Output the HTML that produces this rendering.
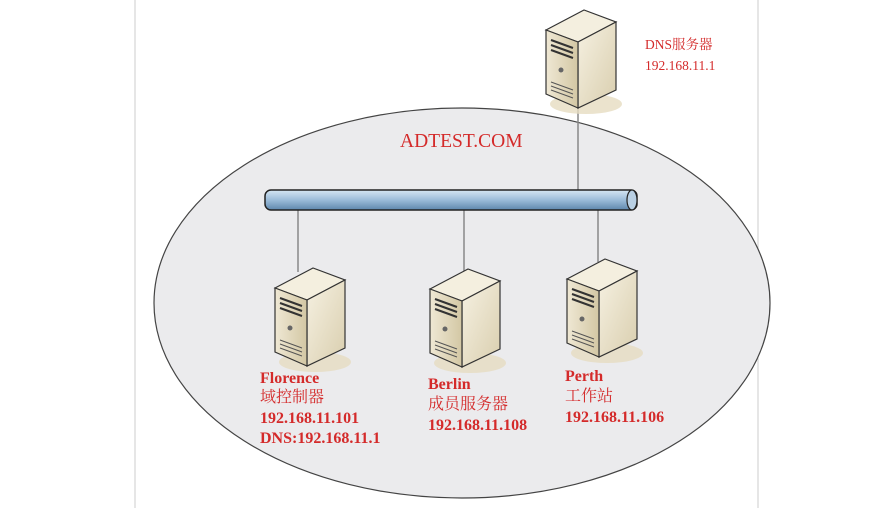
<!DOCTYPE html>
<html><head><meta charset="utf-8"><style>
body{margin:0;background:#fff;}
svg text{font-family:"Liberation Serif","Noto Serif CJK SC",serif;fill:#d42a2a;}
.b{font-weight:bold;font-size:16px;}
.n{font-size:16px;}
.d{font-size:13.5px;}
</style></head><body>
<svg width="893" height="508" viewBox="0 0 893 508" xmlns="http://www.w3.org/2000/svg">
<defs>
<linearGradient id="bus" x1="0" y1="0" x2="0" y2="1">
<stop offset="0" stop-color="#d6e6f3"/><stop offset="0.5" stop-color="#9bbcd9"/><stop offset="1" stop-color="#5e87ad"/></linearGradient>
<linearGradient id="side" x1="0" y1="0" x2="1" y2="1">
<stop offset="0" stop-color="#f6f1e2"/><stop offset="1" stop-color="#d9ceae"/></linearGradient>
<linearGradient id="front" x1="0" y1="0" x2="1" y2="0">
<stop offset="0" stop-color="#efe8d4"/><stop offset="1" stop-color="#d3c7a4"/></linearGradient>
<g id="srv">
<ellipse cx="42" cy="96" rx="36" ry="10" fill="#e6dcc0" opacity="0.8"/>
<polygon points="2,22 40,2 72,14 34,34" fill="#f4efdf" stroke="#333" stroke-width="1.2"/>
<polygon points="34,34 72,14 72,82 34,100" fill="url(#side)" stroke="#333" stroke-width="1.2"/>
<polygon points="2,22 34,34 34,100 2,86" fill="url(#front)" stroke="#333" stroke-width="1.2"/>
<path d="M7,32 L29,40 M7,37 L29,45 M7,42 L29,50" stroke="#333" stroke-width="2"/>
<circle cx="17" cy="62" r="2.5" fill="#666"/>
<path d="M7,74 L29,82 M7,78 L29,86 M7,82 L29,90" stroke="#555" stroke-width="1"/>
</g>
</defs>
<line x1="135" y1="0" x2="135" y2="508" stroke="#ccc"/>
<line x1="758" y1="0" x2="758" y2="508" stroke="#ccc"/>
<ellipse cx="462" cy="303" rx="308" ry="195" fill="#ebebed" stroke="#444" stroke-width="1.2"/>
<line x1="578" y1="95" x2="578" y2="192" stroke="#888" stroke-width="1.5"/>
<line x1="298" y1="208" x2="298" y2="272" stroke="#888" stroke-width="1.5"/>
<line x1="464" y1="208" x2="464" y2="272" stroke="#888" stroke-width="1.5"/>
<line x1="598" y1="208" x2="598" y2="262" stroke="#888" stroke-width="1.5"/>
<rect x="265" y="190" width="372" height="20" rx="6" fill="url(#bus)" stroke="#222" stroke-width="1.5"/>
<ellipse cx="632" cy="200" rx="5" ry="10" fill="#b9d0e4" stroke="#222" stroke-width="1.2"/>
<use href="#srv" x="544" y="8"/>
<use href="#srv" x="273" y="266"/>
<use href="#srv" x="428" y="267"/>
<use href="#srv" x="565" y="257"/>
<text x="400" y="147" style="font-size:19.5px">ADTEST.COM</text>
<text class="d" x="645" y="49">DNS服务器</text>
<text class="d" x="645" y="70">192.168.11.1</text>
<text class="b" x="260" y="383">Florence</text>
<text class="n" x="260" y="402">域控制器</text>
<text class="b" x="260" y="423">192.168.11.101</text>
<text class="b" x="260" y="443">DNS:192.168.11.1</text>
<text class="b" x="428" y="389">Berlin</text>
<text class="n" x="428" y="409">成员服务器</text>
<text class="b" x="428" y="430">192.168.11.108</text>
<text class="b" x="565" y="381">Perth</text>
<text class="n" x="565" y="401">工作站</text>
<text class="b" x="565" y="422">192.168.11.106</text>
</svg>
</body></html>
